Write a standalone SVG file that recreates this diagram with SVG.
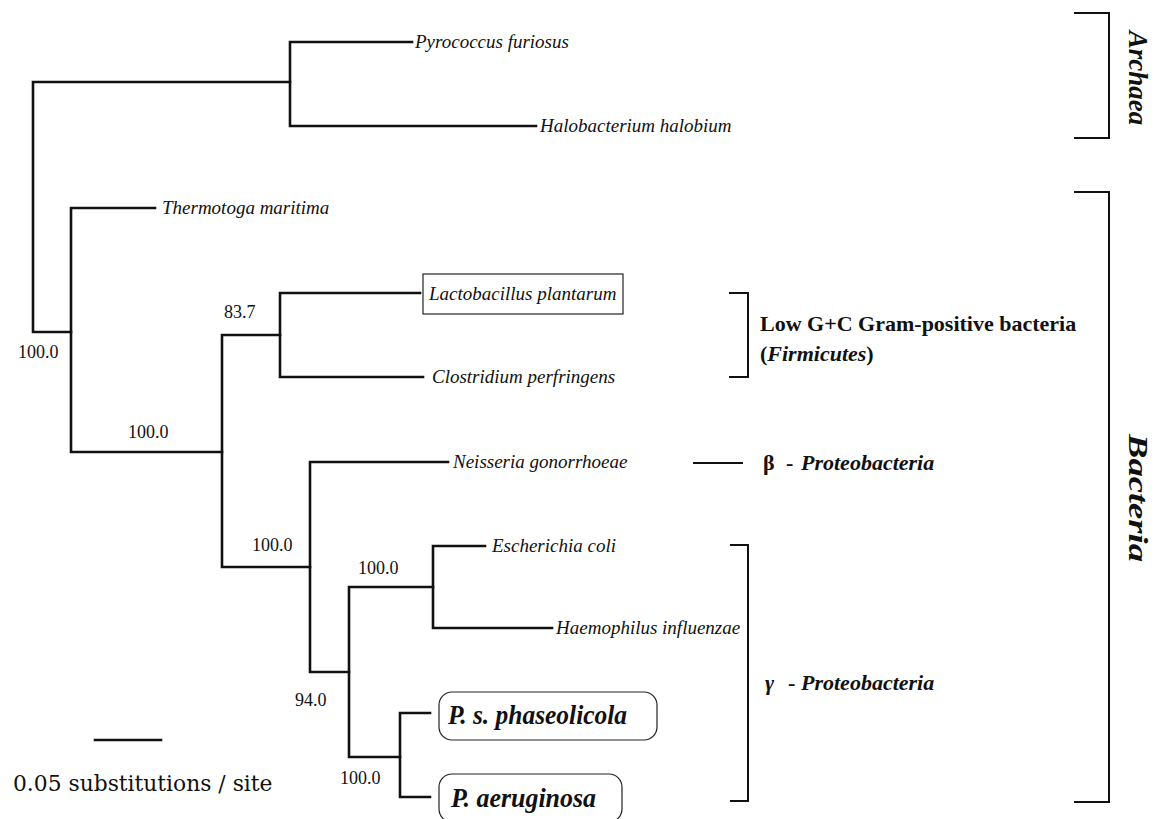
<svg xmlns="http://www.w3.org/2000/svg" width="1154" height="819" viewBox="0 0 1154 819">
<style>
.br{fill:none;stroke:#111;stroke-width:2.6;stroke-linecap:square}
.bk{fill:none;stroke:#111;stroke-width:2}
.sp{font-family:"Liberation Serif",serif;font-style:italic;font-size:19px;fill:#111}
.bs{font-family:"Liberation Serif",serif;font-size:18px;fill:#111}
.grp{font-family:"Liberation Serif",serif;font-weight:bold;font-size:22px;fill:#111}
.big{font-family:"Liberation Serif",serif;font-weight:bold;font-style:italic;font-size:27px;fill:#111}
.dom{font-family:"Liberation Serif",serif;font-weight:bold;font-style:italic;font-size:27px;fill:#111}
.box{fill:none;stroke:#222;stroke-width:1.2}
</style>
<rect width="1154" height="819" fill="#fff"/>
<g id="connectors">
<path class="br" d="M33 82 V332 M33 82 H290 M33 332 H71"/>
<path class="br" d="M290 42 V126 M290 42 H412 M290 126 H536"/>
<path class="br" d="M71 208 V452 M71 208 H155 M71 452 H222"/>
<path class="br" d="M222 335 V567 M222 335 H280 M222 567 H310"/>
<path class="br" d="M280 293 V377 M280 293 H420 M280 377 H423"/>
<path class="br" d="M310 462 V672 M310 462 H448 M310 672 H349"/>
<path class="br" d="M349 587 V757 M349 587 H433 M349 757 H400"/>
<path class="br" d="M433 546 V628 M433 546 H485 M433 628 H552"/>
<path class="br" d="M400 713 V797 M400 713 H430 M400 797 H430"/>
</g>
<g id="support-values">
<text class="bs" x="18" y="358">100.0</text>
<text class="bs" x="128" y="438">100.0</text>
<text class="bs" x="224" y="318">83.7</text>
<text class="bs" x="252" y="551">100.0</text>
<text class="bs" x="358" y="574">100.0</text>
<text class="bs" x="295" y="706">94.0</text>
<text class="bs" x="340" y="784">100.0</text>
</g>
<g id="pyrococcus"><text class="sp" x="415" y="48">Pyrococcus furiosus</text></g>
<g id="halobacterium"><text class="sp" x="540" y="132">Halobacterium halobium</text></g>
<g id="thermotoga"><text class="sp" x="162" y="214">Thermotoga maritima</text></g>
<g id="lactobacillus"><rect class="box" x="423" y="274" width="200" height="40"/><text class="sp" x="429" y="300">Lactobacillus plantarum</text></g>
<g id="clostridium"><text class="sp" x="432" y="383">Clostridium perfringens</text></g>
<g id="neisseria"><text class="sp" x="453" y="468">Neisseria gonorrhoeae</text></g>
<g id="ecoli"><text class="sp" x="492" y="552">Escherichia coli</text></g>
<g id="haemophilus"><text class="sp" x="556" y="634">Haemophilus influenzae</text></g>
<g id="phaseolicola"><rect class="box" x="439" y="692" width="218" height="48" rx="13"/><text class="big" x="448" y="724" textLength="179" lengthAdjust="spacingAndGlyphs">P. s. phaseolicola</text></g>
<g id="aeruginosa"><rect class="box" x="439" y="774" width="183" height="48" rx="13"/><text class="big" x="451" y="807" textLength="145" lengthAdjust="spacingAndGlyphs">P. aeruginosa</text></g>
<g id="scale">
<path class="br" d="M95 740 H161"/>
<text x="13" y="791" style="font-family:'DejaVu Serif',serif;font-size:21.8px;fill:#111">0.05 substitutions / site</text>
</g>
<g id="firmicutes">
<path class="bk" d="M729 293 H748 V377 H729"/>
<text class="grp" x="760" y="331">Low G+C Gram-positive bacteria</text>
<text class="grp" x="760" y="361">(<tspan font-style="italic">Firmicutes</tspan>)</text>
</g>
<g id="beta">
<path class="bk" d="M693 463 H743"/>
<text class="grp" x="763" y="470">β</text>
<text class="grp" x="786" y="470">-</text>
<text class="grp" x="801" y="470" font-style="italic">Proteobacteria</text>
</g>
<g id="gamma">
<path class="bk" d="M730 545 H748 V801 H730"/>
<text class="grp" x="765" y="690" font-style="italic">γ</text>
<text class="grp" x="788" y="690">-</text>
<text class="grp" x="801" y="690" font-style="italic">Proteobacteria</text>
</g>
<g id="archaea">
<path class="bk" d="M1074 13 H1109 V138 H1074"/>
<text class="dom" text-anchor="middle" transform="translate(1129 78) rotate(90)">Archaea</text>
</g>
<g id="bacteria">
<path class="bk" d="M1074 192 H1109 V802 H1074"/>
<text class="dom" x="-64" transform="translate(1129 498) rotate(90)" textLength="128" lengthAdjust="spacingAndGlyphs">Bacteria</text>
</g>
</svg>
